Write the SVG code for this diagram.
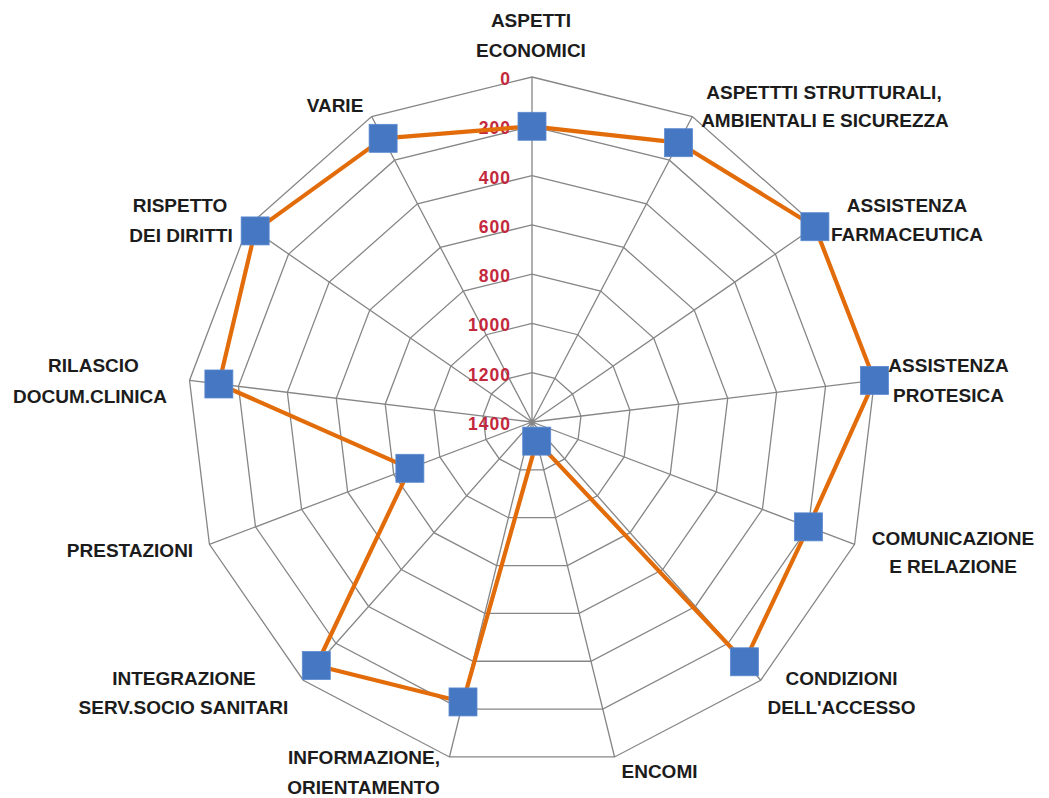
<svg xmlns="http://www.w3.org/2000/svg" xmlns:xlink="http://www.w3.org/1999/xlink" width="1049" height="798" viewBox="0 0 1049 798">
<style>
.grid{fill:none;stroke:#868686;stroke-width:1.3}
.ring{fill:none;stroke:#868686;stroke-width:1.3;vector-effect:non-scaling-stroke}
.data{fill:none;stroke:#E36C0A;stroke-width:4.2;stroke-linejoin:round}
.mk{fill:#4677C2;stroke:#5b8ad0;stroke-width:0.8}
.lbl{font-family:"Liberation Sans",Arial,sans-serif;font-weight:bold;font-size:19px;fill:#1c1c1c;text-anchor:middle}
.val{font-family:"Liberation Sans",Arial,sans-serif;font-weight:bold;font-size:17.5px;fill:#C3283C;text-anchor:end;letter-spacing:1px}
</style>
<defs>
<polygon id="ring" class="ring" points="0,-345 160.33,-305.48 283.93,-195.98 342.48,-41.59 322.58,122.34 228.78,258.24 82.57,334.97 -82.57,334.97 -228.78,258.24 -322.58,122.34 -342.48,-41.59 -283.93,-195.98 -160.33,-305.48"/>
</defs>
<rect width="1049" height="798" fill="#ffffff"/>
<g id="grid">
<use xlink:href="#ring" href="#ring" transform="translate(532 422)"/>
<use xlink:href="#ring" href="#ring" transform="translate(532 422) scale(0.857143)"/>
<use xlink:href="#ring" href="#ring" transform="translate(532 422) scale(0.714286)"/>
<use xlink:href="#ring" href="#ring" transform="translate(532 422) scale(0.571429)"/>
<use xlink:href="#ring" href="#ring" transform="translate(532 422) scale(0.428571)"/>
<use xlink:href="#ring" href="#ring" transform="translate(532 422) scale(0.285714)"/>
<use xlink:href="#ring" href="#ring" transform="translate(532 422) scale(0.142857)"/>
<path class="grid" d="M532,422L532,77M532,422L692.33,116.52M532,422L815.93,226.02M532,422L874.48,380.41M532,422L854.58,544.34M532,422L760.78,680.24M532,422L614.57,756.97M532,422L449.43,756.97M532,422L303.22,680.24M532,422L209.42,544.34M532,422L189.52,380.41M532,422L248.07,226.02M532,422L371.67,116.52"/>
</g>
<g id="axis-values">
<text class="val" x="511" y="85">0</text>
<text class="val" x="511" y="134.3">200</text>
<text class="val" x="511" y="183.6">400</text>
<text class="val" x="511" y="232.9">600</text>
<text class="val" x="511" y="282.1">800</text>
<text class="val" x="511" y="331.4">1000</text>
<text class="val" x="511" y="380.7">1200</text>
<text class="val" x="511" y="430">1400</text>
</g>
<g id="connectors">
<polygon class="data" points="532,126.29 678.59,142.70 814.92,226.72 874.48,380.41 808.50,526.86 744.44,661.79 536.72,441.14 463.00,701.94 316.30,665.48 409.88,468.31 218.87,383.98 255.16,230.92 383.12,138.33"/>
</g>
<g id="aspetti-economici">
<rect class="mk" x="518" y="112.29" width="28" height="28"/>
<text class="lbl" x="531" y="26.5">ASPETTI</text>
<text class="lbl" x="531" y="56.5">ECONOMICI</text>
</g>
<g id="aspetti-strutturali">
<rect class="mk" x="664.59" y="128.70" width="28" height="28"/>
<text class="lbl" x="824" y="98.5">ASPETTTI STRUTTURALI,</text>
<text class="lbl" x="825" y="127">AMBIENTALI E SICUREZZA</text>
</g>
<g id="assistenza-farmaceutica">
<rect class="mk" x="800.92" y="212.72" width="28" height="28"/>
<text class="lbl" x="907" y="211.5">ASSISTENZA</text>
<text class="lbl" x="907" y="241">FARMACEUTICA</text>
</g>
<g id="assistenza-protesica">
<rect class="mk" x="860.48" y="366.41" width="28" height="28"/>
<text class="lbl" x="948.5" y="372">ASSISTENZA</text>
<text class="lbl" x="948.5" y="401.5">PROTESICA</text>
</g>
<g id="comunicazione">
<rect class="mk" x="794.50" y="512.86" width="28" height="28"/>
<text class="lbl" x="953" y="545">COMUNICAZIONE</text>
<text class="lbl" x="953" y="573">E RELAZIONE</text>
</g>
<g id="condizioni-accesso">
<rect class="mk" x="730.44" y="647.79" width="28" height="28"/>
<text class="lbl" x="841.5" y="685">CONDIZIONI</text>
<text class="lbl" x="841.5" y="714">DELL'ACCESSO</text>
</g>
<g id="encomi">
<rect class="mk" x="522.72" y="427.14" width="28" height="28"/>
<text class="lbl" x="659.5" y="778">ENCOMI</text>
</g>
<g id="informazione">
<rect class="mk" x="449.00" y="687.94" width="28" height="28"/>
<text class="lbl" x="364" y="764">INFORMAZIONE,</text>
<text class="lbl" x="363.5" y="794">ORIENTAMENTO</text>
</g>
<g id="integrazione">
<rect class="mk" x="302.30" y="651.48" width="28" height="28"/>
<text class="lbl" x="184" y="685">INTEGRAZIONE</text>
<text class="lbl" x="183.5" y="714">SERV.SOCIO SANITARI</text>
</g>
<g id="prestazioni">
<rect class="mk" x="395.88" y="454.31" width="28" height="28"/>
<text class="lbl" x="130" y="557">PRESTAZIONI</text>
</g>
<g id="rilascio">
<rect class="mk" x="204.87" y="369.98" width="28" height="28"/>
<text class="lbl" x="93.5" y="372">RILASCIO</text>
<text class="lbl" x="90" y="403">DOCUM.CLINICA</text>
</g>
<g id="rispetto">
<rect class="mk" x="241.16" y="216.92" width="28" height="28"/>
<text class="lbl" x="180" y="212">RISPETTO</text>
<text class="lbl" x="181" y="242">DEI DIRITTI</text>
</g>
<g id="varie">
<rect class="mk" x="369.12" y="124.33" width="28" height="28"/>
<text class="lbl" x="335" y="112">VARIE</text>
</g>
</svg>
